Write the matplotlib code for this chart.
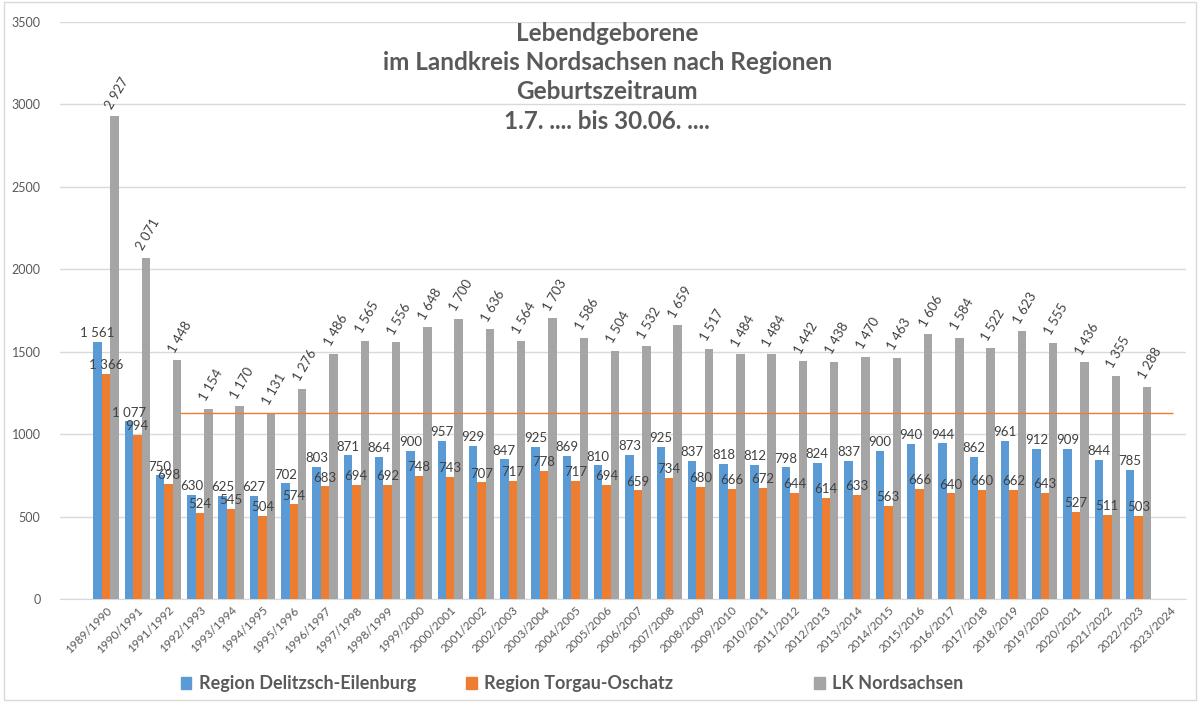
import matplotlib
matplotlib.use("Agg")
import matplotlib.pyplot as plt
import numpy as np
from matplotlib.patches import Patch

plt.rcParams['font.family'] = ['Lato', 'DejaVu Sans']

categories = ["1989/1990", "1990/1991", "1991/1992", "1992/1993", "1993/1994", "1994/1995",
              "1995/1996", "1996/1997", "1997/1998", "1998/1999", "1999/2000", "2000/2001",
              "2001/2002", "2002/2003", "2003/2004", "2004/2005", "2005/2006", "2006/2007",
              "2007/2008", "2008/2009", "2009/2010", "2010/2011", "2011/2012", "2012/2013",
              "2013/2014", "2014/2015", "2015/2016", "2016/2017", "2017/2018", "2018/2019",
              "2019/2020", "2020/2021", "2021/2022", "2022/2023", "2023/2024"]

delitzsch = [1561, 1077, 750, 630, 625, 627, 702, 803, 871, 864, 900, 957, 929, 847, 925, 869,
             810, 873, 925, 837, 818, 812, 798, 824, 837, 900, 940, 944, 862, 961, 912, 909,
             844, 785]
torgau = [1366, 994, 698, 524, 545, 504, 574, 683, 694, 692, 748, 743, 707, 717, 778, 717,
          694, 659, 734, 680, 666, 672, 644, 614, 633, 563, 666, 640, 660, 662, 643, 527,
          511, 503]
nordsachsen = [2927, 2071, 1448, 1154, 1170, 1131, 1276, 1486, 1565, 1556, 1648, 1700, 1636,
               1564, 1703, 1586, 1504, 1532, 1659, 1517, 1484, 1484, 1442, 1438, 1470, 1463,
               1606, 1584, 1522, 1623, 1555, 1436, 1355, 1288]

series_names = ["Region Delitzsch-Eilenburg", "Region Torgau-Oschatz", "LK Nordsachsen"]
ref_line_value = 1131

title = "Lebendgeborene\nim Landkreis Nordsachsen nach Regionen\nGeburtszeitraum\n1.7. .... bis 30.06. ...."

c_blue = "#5b9bd5"
c_orange = "#ed7d31"
c_gray = "#a5a5a5"
txt = "#595959"
lbl = "#404040"

def fmt(v):
    return f"{v:,}".replace(",", " ")

fig = plt.figure(figsize=(12, 7.02), dpi=100)
ax = fig.add_axes([0.05, 0.1467, 0.938, 0.822])

n = len(delitzsch)
x = np.arange(n)
w = 0.27
ax.bar(x - w, delitzsch, w, color=c_blue, zorder=3)
ax.bar(x, torgau, w, color=c_orange, zorder=3)
ax.bar(x + w, nordsachsen, w, color=c_gray, zorder=3)

for xi, v in zip(x - w, delitzsch):
    ax.annotate(fmt(v), (xi, v), xytext=(0, 2), textcoords="offset points",
                ha="center", va="bottom", fontsize=9.5, color=lbl, zorder=5)
for xi, v in zip(x, torgau):
    ax.annotate(fmt(v), (xi, v), xytext=(0, 2), textcoords="offset points",
                ha="center", va="bottom", fontsize=9.5, color=lbl, zorder=5)
for xi, v in zip(x + w, nordsachsen):
    ax.annotate(fmt(v), (xi, v), xytext=(2, 4), textcoords="offset points",
                ha="center", va="bottom", fontsize=9.5, color=lbl, rotation=60, zorder=5)

ax.hlines(ref_line_value, 2.36, 34.1, color=c_orange, linewidth=1.0, zorder=4)

ax.set_ylim(0, 3500)
ax.set_xlim(-1.47, 34.5)
ax.set_yticks(np.arange(0, 3501, 500))
ax.tick_params(axis="y", length=0, pad=14, labelsize=9, labelcolor=txt)
ax.set_xticks(np.arange(len(categories)))
ax.set_xticklabels(categories, rotation=45, ha="right", rotation_mode="anchor",
                   fontsize=8.5, color=txt)
ax.tick_params(axis="x", length=0, pad=4)
ax.grid(axis="y", color="#d9d9d9", linewidth=1, zorder=0)
for s in ["left", "right", "top"]:
    ax.spines[s].set_visible(False)
ax.spines["bottom"].set_color("#d9d9d9")

fig.text(0.506, 0.969, title, ha="center", va="top", fontsize=17.5, fontweight="bold",
         color=txt, linespacing=1.33)

colors = [c_blue, c_orange, c_gray]
xs = [0.137, 0.375, 0.665]
for name, c, xp in zip(series_names, colors, xs):
    fig.legend(handles=[Patch(color=c)], labels=[name], loc="center left",
               bbox_to_anchor=(xp, 0.026), frameon=False,
               handlelength=0.6, handleheight=0.6, handletextpad=0.4,
               prop={"weight": "bold", "size": 13})
for t in fig.legends:
    for tx in t.get_texts():
        tx.set_color(txt)

fig.patches.append(plt.Rectangle((0.003, 0.003), 0.994, 0.994, transform=fig.transFigure,
                                 fill=False, edgecolor="#d9d9d9", linewidth=1))

fig.savefig("out.png", dpi=100, facecolor="white")
